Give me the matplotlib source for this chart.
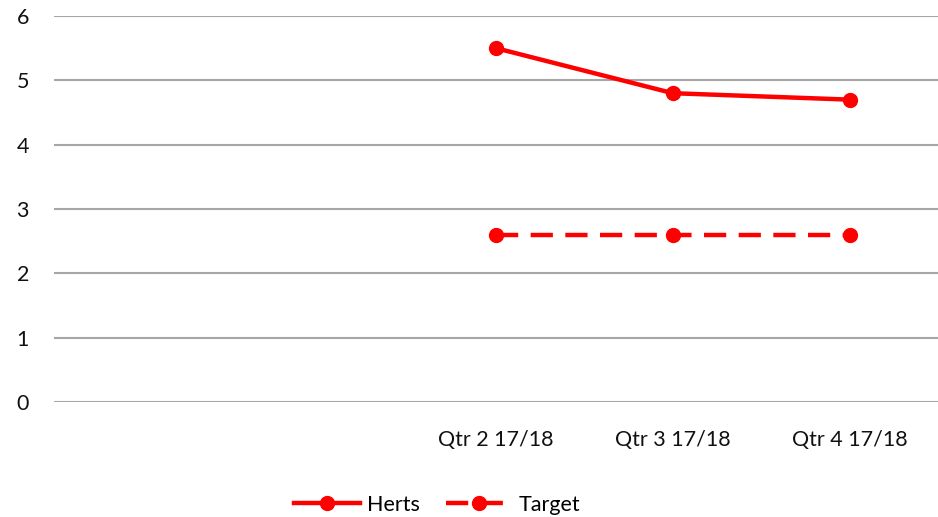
import matplotlib.pyplot as plt

categories = ['', '', 'Qtr 2 17/18', 'Qtr 3 17/18', 'Qtr 4 17/18']
herts = [None, None, 5.5, 4.8, 4.7]
target = [None, None, 2.6, 2.6, 2.6]

plt.rcParams['font.family'] = ['Lato', 'DejaVu Sans']

fig = plt.figure(figsize=(9.38, 5.17), dpi=100)
ax = fig.add_axes([54 / 938, 1 - 402 / 517, 884 / 938, 386 / 517])

x = list(range(len(categories)))
hx = [i for i, v in zip(x, herts) if v is not None]
hy = [v for v in herts if v is not None]
tx = [i for i, v in zip(x, target) if v is not None]
ty = [v for v in target if v is not None]

ax.plot(hx, hy, color='#FF0000', lw=3.2, marker='o', ms=10, label='Herts')
ax.plot(tx, ty, color='#FF0000', lw=3.2, ls=(0, (5, 2.8)), marker='o', ms=10, label='Target')

ax.set_xlim(-0.5, len(categories) - 0.5)
ax.set_ylim(0, 6)
ax.set_yticks(range(0, 7))
ax.set_xticks(x)
ax.set_xticklabels(categories)
ax.grid(axis='y', color='#A6A6A6', lw=1.5)
ax.set_axisbelow(True)
for s in ax.spines.values():
    s.set_visible(False)
ax.tick_params(axis='both', length=0, labelsize=15.5, colors='#111111')
ax.tick_params(axis='y', pad=18)
ax.tick_params(axis='x', pad=20)

fig.legend(loc='center', bbox_to_anchor=(437 / 938, 1 - 505 / 517), ncol=2, frameon=False,
           fontsize=15.5, handlelength=3.1, columnspacing=1.2, handletextpad=0.3)

fig.savefig('out.png', dpi=100)
